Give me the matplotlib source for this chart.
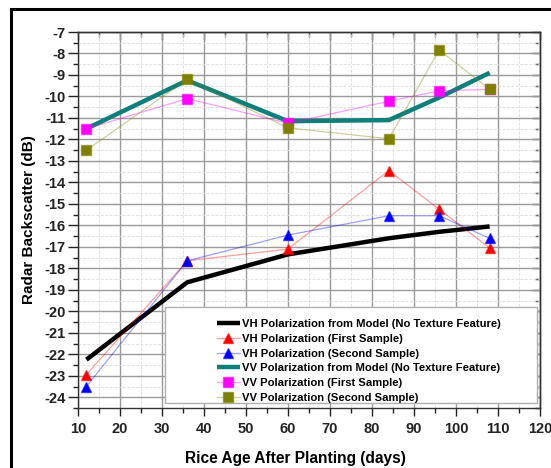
import numpy as np
import matplotlib.pyplot as plt
import matplotlib.colors as mc
from matplotlib.patches import Rectangle
from matplotlib.ticker import MultipleLocator

plt.rcParams['font.family'] = ['Liberation Sans', 'DejaVu Sans']
plt.rcParams['font.weight'] = 'bold'
plt.rcParams['axes.unicode_minus'] = False

# rice age after planting (days)
days = [12, 36, 60, 84, 96, 108]

vh_model = [-22.25, -18.65, -17.35, -16.6, -16.3, -16.05]
vh_first = [-22.95, -17.65, -17.1, -13.45, -15.25, -17.05]
vh_second = [-23.5, -17.65, -16.45, -15.55, -15.55, -16.6]
vv_model = [-11.5, -9.25, -11.15, -11.1, -10.05, -8.9]
vv_first = [-11.5, -10.1, -11.25, -10.22, -9.74, -9.67]
vv_second = [-12.5, -9.2, -11.46, -11.97, -7.84, -9.67]

labels = [
    "VH Polarization from Model (No Texture Feature)",
    "VH Polarization (First Sample)",
    "VH Polarization (Second Sample)",
    "VV Polarization from Model (No Texture Feature)",
    "VV Polarization (First Sample)",
    "VV Polarization (Second Sample)",
]

fig = plt.figure(figsize=(5.51, 4.68), dpi=100)
ax = fig.add_axes([0.1416, 0.1282, 0.8384, 0.8034])

def light(c, a):
    r, g, b = mc.to_rgb(c)
    return (r, g, b, a)

ax.plot(days, vh_model, color='black', lw=3.2, label=labels[0], zorder=3,
        solid_capstyle='butt')
ax.plot(days, vh_first, color=light('red', 0.38), lw=0.9, marker='^', ms=7.5,
        mfc='red', mec=light('red', 0.6), label=labels[1], zorder=4)
ax.plot(days, vh_second, color=light('blue', 0.38), lw=0.9, marker='^', ms=7.5,
        mfc='blue', mec=light('blue', 0.6), label=labels[2], zorder=4)
ax.plot(days, vv_model, color='#0e7f7a', lw=3.2, label=labels[3], zorder=3,
        solid_capstyle='butt')
ax.plot(days, vv_first, color=light('magenta', 0.38), lw=0.9, marker='s', ms=6.5,
        mfc='magenta', mec=light('magenta', 0.6), label=labels[4], zorder=4)
ax.plot(days, vv_second, color=light('#808000', 0.38), lw=0.9, marker='s', ms=6.5,
        mfc='#808000', mec=light('#808000', 0.6), label=labels[5], zorder=4)

ax.set_xlim(10, 120)
ax.set_ylim(-24.5, -7)
ax.xaxis.set_major_locator(MultipleLocator(10))
ax.xaxis.set_minor_locator(MultipleLocator(5))
ax.yaxis.set_major_locator(MultipleLocator(1))
ax.yaxis.set_minor_locator(MultipleLocator(0.5))
ax.tick_params(which='both', direction='out', labelsize=10.5, colors='#222222')
ax.tick_params(axis='x', which='major', length=6, width=1, pad=4)
ax.tick_params(axis='y', which='major', length=7, width=1, pad=2)
ax.tick_params(which='minor', length=3.5, width=1)
for lab in ax.get_xticklabels() + ax.get_yticklabels():
    lab.set_fontweight('bold')

# top and right ticks point inwards, no labels
top = ax.secondary_xaxis('top')
top.xaxis.set_major_locator(MultipleLocator(10))
top.xaxis.set_minor_locator(MultipleLocator(5))
top.tick_params(which='both', direction='in', labeltop=False, colors='#333333')
top.tick_params(which='major', length=6, width=1)
top.tick_params(which='minor', length=3.5, width=1)
right = ax.secondary_yaxis('right')
right.yaxis.set_major_locator(MultipleLocator(1))
right.yaxis.set_minor_locator(MultipleLocator(0.5))
right.tick_params(which='both', direction='in', labelright=False, colors='#333333')
right.tick_params(which='major', length=6, width=1)
right.tick_params(which='minor', length=3.5, width=1)

ax.grid(which='major', color='#9a9a9a', lw=1.0, ls='-', zorder=0)
ax.grid(which='minor', color='#dddddd', lw=0.6, ls='--', zorder=0)
for s in list(ax.spines.values()) + list(top.spines.values()) + list(right.spines.values()):
    s.set_color('#333333')
    s.set_linewidth(1.0)

ax.set_xlabel("Rice Age After Planting (days)", fontsize=11.2, fontweight='bold')
ax.xaxis.set_label_coords(0.47, -0.115)
ax.set_ylabel("Radar Backscatter (dB)", fontsize=11, fontweight='bold',
              labelpad=6)

# legend box drawn separately so its margins match the reference
ax.add_patch(Rectangle((0.188, 0.013), 0.806, 0.256, transform=ax.transAxes,
                       facecolor='white', edgecolor='#b0b0b0', lw=1.0, zorder=5))
leg = ax.legend(loc='upper left', bbox_to_anchor=(0.30, 0.237), frameon=False,
                fontsize=8.1, handlelength=2.1, handletextpad=0.2,
                labelspacing=0.43, borderpad=0, borderaxespad=0)
leg.set_zorder(6)
for t in leg.get_texts():
    t.set_fontweight('bold')

# outer frame around the figure
fig.patches.append(Rectangle((11 / 551, -0.1), 1.2, 1 - 9 / 468 + 0.1,
                             transform=fig.transFigure, fill=False,
                             edgecolor='black', lw=2.2, zorder=10))

fig.savefig("out.png", dpi=100)
